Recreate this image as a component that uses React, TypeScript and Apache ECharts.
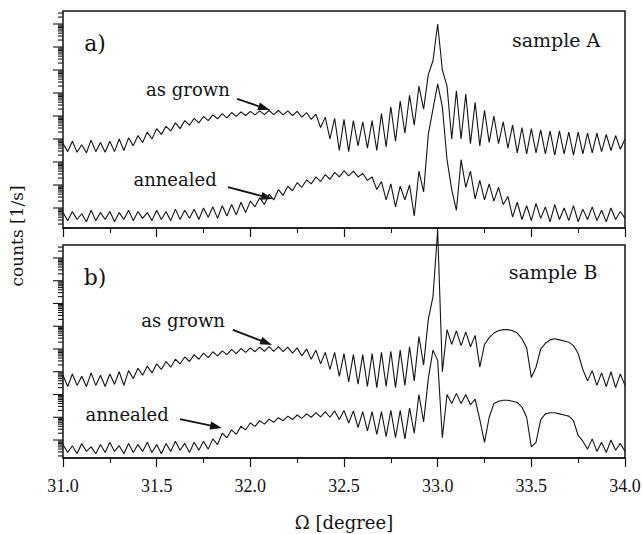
import React, { useEffect, useRef } from "react";
import * as echarts from "echarts";

// Ω grid [degree]
const omega = [
  31.0, 31.025, 31.05, 31.075, 31.1, 31.125, 31.15, 31.175, 31.2, 31.225,
  31.25, 31.275, 31.3, 31.325, 31.35, 31.375, 31.4, 31.425, 31.45, 31.475,
  31.5, 31.525, 31.55, 31.575, 31.6, 31.625, 31.65, 31.675, 31.7, 31.725,
  31.75, 31.775, 31.8, 31.825, 31.85, 31.875, 31.9, 31.925, 31.95, 31.975,
  32.0, 32.025, 32.05, 32.075, 32.1, 32.125, 32.15, 32.175, 32.2, 32.225,
  32.25, 32.275, 32.3, 32.325, 32.35, 32.375, 32.4, 32.425, 32.45, 32.475,
  32.5, 32.525, 32.55, 32.575, 32.6, 32.625, 32.65, 32.675, 32.7, 32.725,
  32.75, 32.775, 32.8, 32.825, 32.85, 32.875, 32.9, 32.925, 32.95, 32.975,
  33.0, 33.025, 33.05, 33.075, 33.1, 33.125, 33.15, 33.175, 33.2, 33.225,
  33.25, 33.275, 33.3, 33.325, 33.35, 33.375, 33.4, 33.425, 33.45, 33.475,
  33.5, 33.525, 33.55, 33.575, 33.6, 33.625, 33.65, 33.675, 33.7, 33.725,
  33.75, 33.775, 33.8, 33.825, 33.85, 33.875, 33.9, 33.925, 33.95, 33.975, 34.0,
];

// log10(counts), offset per panel (decades)
const grownA = [
  2.8, 2.45, 2.9, 2.42, 2.75, 2.4, 2.95, 2.45, 2.85, 2.42,
  2.9, 2.45, 3.0, 2.5, 3.05, 2.7, 3.15, 2.85, 3.3, 3.0,
  3.45, 3.2, 3.55, 3.35, 3.7, 3.45, 3.8, 3.6, 3.9, 3.7,
  3.98, 3.8, 4.05, 3.88, 4.1, 3.92, 4.15, 3.98, 4.18, 4.02,
  4.2, 4.05, 4.22, 4.06, 4.24, 4.06, 4.24, 4.05, 4.22, 4.02,
  4.2, 3.95, 4.15, 3.85, 4.08, 3.5, 3.95, 3.0, 3.9, 2.5,
  3.85, 2.45, 3.8, 2.7, 3.75, 2.6, 3.8, 2.5, 4.1, 2.65,
  4.4, 2.9, 4.65, 3.25, 4.9, 3.6, 5.3, 4.3, 5.8, 6.4,
  8.0, 6.0, 5.3, 3.0, 5.1, 3.0, 4.95, 2.8, 4.6, 2.7,
  4.25, 2.85, 4.0, 2.8, 3.75, 2.6, 3.6, 2.4, 3.5, 2.35,
  3.45, 2.4, 3.4, 2.35, 3.35, 2.3, 3.35, 2.35, 3.3, 2.3,
  3.3, 2.35, 3.25, 2.4, 3.25, 2.45, 3.2, 2.5, 3.15, 2.55, 3.0,
];

const annealedA = [
  -0.2, -0.55, -0.15, -0.5, -0.25, -0.6, -0.1, -0.55, -0.2, -0.5,
  -0.15, -0.6, -0.2, -0.5, -0.1, -0.55, -0.15, -0.45, -0.2, -0.55,
  -0.1, -0.5, -0.15, -0.55, -0.05, -0.5, -0.1, -0.45, -0.05, -0.5,
  0.0, -0.4, 0.05, -0.45, 0.1, -0.35, 0.15, -0.3, 0.25, -0.2,
  0.3, 0.05, 0.45, 0.15, 0.6, 0.35, 0.8, 0.55, 0.95, 0.75,
  1.1, 0.9, 1.22, 1.05, 1.35, 1.15, 1.45, 1.25, 1.55, 1.35,
  1.62, 1.4, 1.6, 1.35, 1.5, 1.2, 1.35, 0.8, 1.15, 0.35,
  1.05, 0.05, 0.95, 0.35, 1.0, -0.35, 1.6, 0.7, 3.2, 4.3,
  5.4, 4.4, 2.1, 0.8, -0.1, 2.1, 0.9, 1.6, 0.4, 1.2,
  0.35, 1.05, 0.3, 0.9, 0.15, 0.5, -0.4, 0.25, -0.5, 0.1,
  -0.55, 0.2, -0.45, 0.05, -0.6, 0.15, -0.5, 0.0, -0.55, 0.1,
  -0.6, -0.05, -0.5, 0.05, -0.55, -0.1, -0.6, 0.0, -0.5, -0.15, -0.45,
];

const grownB = [
  2.85, 2.35, 2.9, 2.4, 2.8, 2.35, 2.95, 2.4, 2.85, 2.35,
  2.9, 2.45, 3.0, 2.4, 3.05, 2.7, 3.15, 2.85, 3.25, 2.95,
  3.35, 3.1, 3.45, 3.2, 3.55, 3.35, 3.65, 3.45, 3.75, 3.55,
  3.82, 3.62, 3.88, 3.7, 3.92, 3.75, 3.98, 3.8, 4.02, 3.85,
  4.05, 3.88, 4.08, 3.9, 4.1, 3.9, 4.1, 3.88, 4.08, 3.82,
  4.05, 3.7, 4.0, 3.55, 3.95, 3.35, 3.85, 3.1, 3.85, 2.8,
  3.8, 2.55, 3.75, 2.45, 3.75, 2.35, 3.8, 2.3, 3.85, 2.35,
  3.9, 2.3, 3.95, 2.4, 4.1, 2.6, 4.55, 3.3, 5.3, 6.3,
  9.2, 3.0, 4.85, 4.2, 4.8, 4.15, 4.75, 4.1, 4.6, 3.2,
  4.2, 4.5, 4.7, 4.8, 4.85, 4.85, 4.8, 4.7, 4.45, 4.05,
  2.75, 3.2, 4.0, 4.25, 4.4, 4.45, 4.4, 4.35, 4.3, 4.15,
  3.8, 3.1, 2.6, 3.05, 2.4, 2.95, 2.35, 3.0, 2.3, 2.9, 2.4,
];

const annealedB = [
  -0.2, -0.55, -0.25, -0.6, -0.15, -0.5, -0.3, -0.6, -0.2, -0.55,
  -0.1, -0.5, -0.25, -0.6, -0.15, -0.55, -0.2, -0.5, -0.1, -0.55,
  -0.2, -0.6, -0.15, -0.5, -0.05, -0.45, -0.15, -0.55, -0.1, -0.45,
  -0.05, -0.4, 0.05, -0.2, 0.3, 0.1, 0.45, 0.25, 0.6, 0.45,
  0.75, 0.6, 0.85, 0.7, 0.92, 0.78, 0.98, 0.85, 1.05, 0.9,
  1.1, 0.95, 1.15, 1.0, 1.2, 1.02, 1.25, 1.0, 1.28, 0.9,
  1.3, 0.75, 1.28, 0.55, 1.25, 0.4, 1.25, 0.25, 1.25, 0.15,
  1.3, 0.1, 1.3, 0.05, 1.4, 0.3, 2.0, 0.8, 2.7, 3.95,
  3.5, 0.1, 2.0, 1.6, 2.05, 1.6, 2.0, 1.55, 1.8, 0.9,
  -0.1, 1.0, 1.6, 1.7, 1.75, 1.75, 1.7, 1.65, 1.45, 1.0,
  -0.3, -0.1, 0.9, 1.15, 1.2, 1.2, 1.15, 1.1, 1.05, 0.85,
  0.2, -0.05, -0.4, 0.05, -0.5, -0.1, -0.55, 0.0, -0.45, -0.15, -0.5,
];

// x tick labels (panel b)
const xTickValues = [31.0, 31.5, 32.0, 32.5, 33.0, 33.5, 34.0];
const xTickLabels = ["31.0", "31.5", "32.0", "32.5", "33.0", "33.5", "34.0"];

// log-axis decade ticks
const decades = [-1, 0, 1, 2, 3, 4, 5, 6, 7, 8, 9];
const minorFactors = [2, 3, 4, 5, 6, 7, 8, 9];

const panelRanges = [
  { min: -0.87, max: 8.565 },
  { min: -0.79, max: 8.57 },
];

const panelTitles = ["a)", "b)"];
const sampleNames = ["sample A", "sample B"];
const curveNames = ["as grown", "annealed"];
// [Ω, log] positions of annotation texts and arrows
const titlePos = [[31.171, 7.17], [31.171, 7.16]];
const samplePos = [[33.632, 7.3], [33.616, 7.38]];
const curveLabelPos = [
  [[31.667, 5.17], [31.598, 1.22]],
  [[31.641, 5.27], [31.342, 1.14]],
];
const arrowPos = [
  [[31.929, 4.74, 32.105, 4.26], [31.881, 0.91, 32.121, 0.39]],
  [[31.907, 4.84, 32.116, 4.18], [31.625, 0.92, 31.849, 0.53]],
];

const FONT = "DejaVu Serif";
const NUMFONT = "Liberation Serif";
const INK = "#141414";

function buildTicks(min: number, max: number) {
  const out: number[][] = [];
  decades.forEach((d) => {
    if (d >= min && d <= max) out.push([31, d, 10]);
    minorFactors.forEach((m) => {
      const v = d + Math.log10(m);
      if (v >= min && v <= max) out.push([31, v, 5]);
    });
  });
  return out;
}

export default function App() {
  const ref = useRef<HTMLDivElement>(null);
  useEffect(() => {
    if (!ref.current) return;
    const chart = echarts.init(ref.current, null, { renderer: "svg" });
    const grids = [
      { left: 63, top: 11, width: 562, height: 217 },
      { left: 63, top: 245, width: 562, height: 213 },
    ].map((g) => ({
      ...g,
      show: true,
      borderColor: INK,
      borderWidth: 1.5,
      backgroundColor: "transparent",
      containLabel: false,
      outerBoundsMode: "none",
    }));

    const xAxes = [0, 1].map((g) => ({
      gridIndex: g,
      type: "value",
      min: 31,
      max: 34,
      interval: 0.5,
      axisLine: { show: true, onZero: false, lineStyle: { color: INK, width: 1.5 } },
      axisTick: { show: true, length: 9, lineStyle: { color: INK, width: 1.2 } },
      minorTick: { show: true, splitNumber: 2, length: 5, lineStyle: { color: INK, width: 1 } },
      splitLine: { show: false },
      minorSplitLine: { show: false },
      axisLabel: { show: false },
    }));

    const yAxes = [0, 1].map((g) => ({
      gridIndex: g,
      type: "value",
      min: panelRanges[g].min,
      max: panelRanges[g].max,
      axisLine: { show: false },
      axisTick: { show: false },
      axisLabel: { show: false },
      splitLine: { show: false },
    }));

    const curves = [
      [grownA, annealedA],
      [grownB, annealedB],
    ];
    const series: any[] = [];
    curves.forEach((pair, g) => {
      pair.forEach((arr, k) => {
        series.push({
          type: "line",
          name: `${sampleNames[g]} ${curveNames[k]}`,
          xAxisIndex: g,
          yAxisIndex: g,
          data: omega.map((x, i) => [x, arr[i]]),
          symbol: "none",
          showSymbol: false,
          clip: !(g === 1 && k === 0),
          lineStyle: { color: INK, width: 1.1 },
          silent: true,
          z: 3,
        });
      });
      series.push({
        type: "custom",
        xAxisIndex: g,
        yAxisIndex: g,
        clip: false,
        silent: true,
        encode: { x: 0, y: 1 },
        data: buildTicks(panelRanges[g].min, panelRanges[g].max),
        renderItem: (_p: any, api: any) => {
          const pt = api.coord([api.value(0), api.value(1)]);
          const len = api.value(2);
          return {
            type: "line",
            shape: { x1: pt[0] - len, y1: pt[1], x2: pt[0], y2: pt[1] },
            style: { stroke: INK, lineWidth: 1.1 },
          };
        },
      });
    });

    chart.setOption({
      animation: false,
      backgroundColor: "#ffffff",
      textStyle: { fontFamily: FONT },
      grid: grids,
      xAxis: xAxes,
      yAxis: yAxes,
      series,
    });

    const px = (g: number, x: number, y: number) =>
      chart.convertToPixel({ gridIndex: g } as any, [x, y]) as number[];

    const graphics: any[] = [];
    const text = (t: string, p: number[], size: number, family = FONT, va = "middle") => ({
      type: "text",
      x: p[0],
      y: p[1],
      silent: true,
      style: {
        text: t,
        fontFamily: family,
        fontSize: size,
        fill: INK,
        align: "center",
        verticalAlign: va,
      },
    });
    // x tick labels under panel b
    xTickValues.forEach((v, i) => {
      const p = px(1, v, panelRanges[1].min);
      graphics.push(text(xTickLabels[i], [p[0], p[1] + 28], 18, NUMFONT));
    });
    // x axis title
    const mid = px(1, 32.5, panelRanges[1].min);
    graphics.push(text("Ω [degree]", [mid[0], mid[1] + 64], 18, FONT));

    [0, 1].forEach((g) => {
      graphics.push(text(panelTitles[g], px(g, titlePos[g][0], titlePos[g][1]), 22));
      graphics.push(text(sampleNames[g], px(g, samplePos[g][0], samplePos[g][1]), 19));
      [0, 1].forEach((k) => {
        const lp = curveLabelPos[g][k];
        graphics.push(text(curveNames[k], px(g, lp[0], lp[1]), 18));
        const a = arrowPos[g][k];
        const p1 = px(g, a[0], a[1]);
        const p2 = px(g, a[2], a[3]);
        const dx = p2[0] - p1[0];
        const dy = p2[1] - p1[1];
        const L = Math.hypot(dx, dy);
        const ux = dx / L;
        const uy = dy / L;
        const hl = 12;
        const hw = 4;
        const bx = p2[0] - ux * hl;
        const by = p2[1] - uy * hl;
        graphics.push({
          type: "line",
          silent: true,
          shape: { x1: p1[0], y1: p1[1], x2: bx + ux * 2, y2: by + uy * 2 },
          style: { stroke: INK, lineWidth: 1.8 },
        });
        graphics.push({
          type: "polygon",
          silent: true,
          shape: {
            points: [
              [p2[0], p2[1]],
              [bx - uy * hw, by + ux * hw],
              [bx + uy * hw, by - ux * hw],
            ],
          },
          style: { fill: INK },
        });
      });
    });
    graphics.push({
      type: "text",
      x: 17,
      y: 236,
      rotation: Math.PI / 2,
      silent: true,
      style: {
        text: "counts [1/s]",
        fontFamily: FONT,
        fontSize: 17,
        fill: INK,
        align: "center",
        verticalAlign: "middle",
      },
    });
    chart.setOption({ graphic: graphics });

    return () => chart.dispose();
  }, []);

  return (
    <div
      ref={ref}
      style={{ position: "absolute", left: 0, top: 0, width: 643, height: 534, background: "#fff" }}
    />
  );
}
